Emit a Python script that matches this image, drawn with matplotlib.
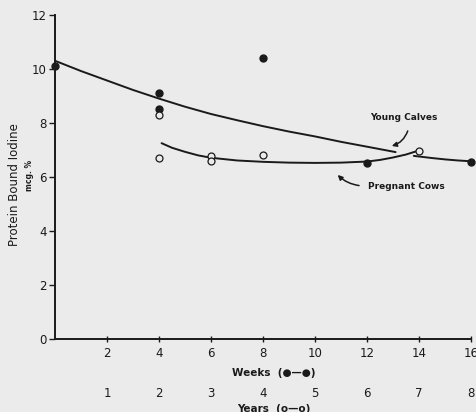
import matplotlib
matplotlib.use('Agg')
import matplotlib.pyplot as plt

# data
weeks_calves = [0, 4, 4, 8, 12, 16]
pbi_calves = [10.1, 9.1, 8.5, 10.4, 6.5, 6.55]

years_cows = [2, 2, 3, 3, 4, 7]
pbi_cows = [8.3, 6.7, 6.78, 6.6, 6.8, 6.95]

# hand-drawn curves of the original
calves_curve_x = [0, 1, 2, 3, 4, 5, 6, 7, 8, 9, 10, 11, 12, 13.1]
calves_curve_y = [10.3, 9.92, 9.57, 9.22, 8.9, 8.6, 8.33, 8.1, 7.88, 7.68,
                  7.5, 7.3, 7.12, 6.92]
calves_tail_x = [13.8, 14.5, 15, 15.5, 16]
calves_tail_y = [6.78, 6.7, 6.65, 6.61, 6.58]

cows_curve_x = [4.1, 4.5, 5, 5.5, 6, 7, 8, 9, 10, 11, 12, 12.5, 13, 13.5, 13.9]
cows_curve_y = [7.25, 7.08, 6.93, 6.8, 6.71, 6.61, 6.56, 6.53, 6.52, 6.53,
                6.57, 6.63, 6.72, 6.83, 6.95]

week_ticks = [2, 4, 6, 8, 10, 12, 14, 16]
year_ticks = [1, 2, 3, 4, 5, 6, 7, 8]
y_ticks = [0, 2, 4, 6, 8, 10, 12]

bg = '#ebebeb'
ink = '#1a1a1a'

fig = plt.figure(figsize=(4.76, 4.12), dpi=100, facecolor=bg)
ax = fig.add_axes([0.1155, 0.177, 0.874, 0.787], facecolor=bg)

for cx, cy in [(calves_curve_x, calves_curve_y), (calves_tail_x, calves_tail_y),
               (cows_curve_x, cows_curve_y)]:
    ax.plot(cx, cy, color=ink, lw=1.4, clip_on=False,
            solid_joinstyle='round', solid_capstyle='round')

ax.plot(weeks_calves, pbi_calves, 'o', color=ink, ms=5, clip_on=False, zorder=5)
ax.plot([2 * y for y in years_cows], pbi_cows, 'o', mfc=bg, mec=ink, mew=0.9,
        ms=5, clip_on=False, zorder=5)

ax.set_xlim(0, 16)
ax.set_ylim(0, 12)
for s in ['top', 'right']:
    ax.spines[s].set_visible(False)
for s in ['left', 'bottom']:
    ax.spines[s].set_color(ink)
    ax.spines[s].set_linewidth(1.4)

ax.set_xticks(week_ticks)
ax.set_xticklabels([str(t) for t in week_ticks])
ax.set_yticks(y_ticks)
ax.tick_params(axis='both', colors=ink, labelsize=8.5, length=4, width=1,
               direction='inout')
ax.tick_params(axis='x', pad=4)
ax.tick_params(axis='y', direction='out', pad=2)

xt = ax.get_xaxis_transform()
for y, w in zip(year_ticks, week_ticks):
    ax.text(w, -0.167, str(y), transform=xt, ha='center', va='center',
            fontsize=8.5, color=ink, clip_on=False)

ax.text(8.4, -0.105, 'Weeks  (\u25cf\u2014\u25cf)', transform=xt, ha='center',
        va='center', fontsize=7.5, fontweight='bold', color=ink)
ax.text(8.4, -0.215, 'Years  (o\u2014o)', transform=xt, ha='center',
        va='center', fontsize=7.5, fontweight='bold', color=ink)

fig.text(0.03, 0.553, 'Protein Bound Iodine', rotation=90, ha='center',
         va='center', fontsize=8.5, color=ink)
fig.text(0.063, 0.575, 'mcg. %', rotation=90, ha='center', va='center',
         fontsize=5.5, fontweight='bold', color=ink)

ax.text(13.4, 8.2, 'Young Calves', ha='center', va='center', fontsize=6.5,
        fontweight='bold', color=ink)
ax.annotate('', xy=(12.85, 7.12), xytext=(13.6, 7.8),
            arrowprops=dict(arrowstyle='-|>', color=ink, lw=1.1,
                            connectionstyle='arc3,rad=-0.3',
                            mutation_scale=7))
ax.text(13.5, 5.63, 'Pregnant Cows', ha='center', va='center', fontsize=6.5,
        fontweight='bold', color=ink)
ax.annotate('', xy=(10.8, 6.15), xytext=(11.8, 5.67),
            arrowprops=dict(arrowstyle='-|>', color=ink, lw=1.1,
                            connectionstyle='arc3,rad=-0.2',
                            mutation_scale=7))

fig.savefig('out.png', dpi=100, facecolor=bg)
